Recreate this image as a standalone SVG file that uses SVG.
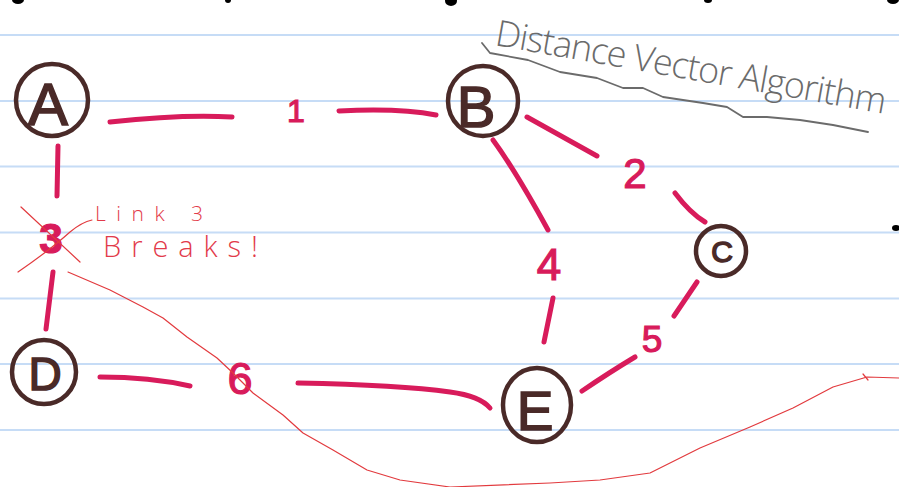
<svg xmlns="http://www.w3.org/2000/svg" width="899" height="487" viewBox="0 0 899 487">
<style>
.rule{stroke:#c6dcf6;stroke-width:2}
.node circle{fill:none;stroke:#4a2a28;stroke-width:4.5}
.node text{font-family:"Liberation Sans",Arial,sans-serif;fill:#4a2a28;stroke:#4a2a28;stroke-width:1.5;text-anchor:middle}
.edge{fill:none;stroke:#d81b5b;stroke-width:5;stroke-linecap:round;stroke-linejoin:round}
.wt{font-family:"Liberation Sans",Arial,sans-serif;fill:#d81b5b;stroke:#d81b5b;stroke-width:1.2;text-anchor:middle}
.thin{fill:none;stroke:#e23a3e;stroke-width:1.2;stroke-linecap:round;stroke-linejoin:round}
.note{font-family:"Open Sans","Liberation Sans",sans-serif;font-weight:300;fill:#e23a4a}
.title{font-family:"Open Sans","Liberation Sans",sans-serif;font-weight:300;fill:#6b6b6b}
.dot{fill:#000}
</style>
<rect width="899" height="487" fill="#fff"/>
<g id="paper">
<line class="rule" x1="0" y1="35" x2="899" y2="35"/>
<line class="rule" x1="0" y1="101" x2="899" y2="101"/>
<line class="rule" x1="0" y1="166.5" x2="899" y2="166.5"/>
<line class="rule" x1="0" y1="232.5" x2="899" y2="232.5"/>
<line class="rule" x1="0" y1="298.5" x2="899" y2="298.5"/>
<line class="rule" x1="0" y1="364" x2="899" y2="364"/>
<line class="rule" x1="0" y1="430" x2="899" y2="430"/>
<ellipse class="dot" cx="18" cy="0" rx="6" ry="4"/>
<ellipse class="dot" cx="228" cy="0" rx="3" ry="3"/>
<ellipse class="dot" cx="451" cy="1" rx="6" ry="5"/>
<ellipse class="dot" cx="708" cy="0" rx="4" ry="3"/>
<ellipse class="dot" cx="893" cy="0" rx="6" ry="4"/>
<ellipse class="dot" cx="896" cy="228" rx="4" ry="3"/>
</g>
<g id="title">
<text class="title" x="494" y="45" font-size="36" textLength="396" lengthAdjust="spacing" transform="rotate(10 494 45)">Distance Vector Algorithm</text>
<path d="M482,43 L490,53 L528,60 L560,72 L597,78 L623,88 L643,88 L663,97 L703,103 L727,107 L743,117 L767,117 L800,120 L833,125 L868,132" fill="none" stroke="#6b6b6b" stroke-width="1.8" stroke-linejoin="round" stroke-linecap="round"/>
</g>
<g id="connectors">
<path class="edge" d="M110,122 Q183,114 232,117"/>
<path class="edge" d="M339,111 Q400,108 436,115"/>
<path class="edge" d="M58,146 L57,196"/>
<path class="edge" d="M53,272 L46,329"/>
<path class="edge" d="M527,117 L597,156"/>
<path class="edge" d="M675,193 Q690,213 705,222"/>
<path class="edge" d="M493,140 Q515,170 548,230"/>
<path class="edge" d="M553,298 L544,342"/>
<path class="edge" d="M697,282 L674,316"/>
<path class="edge" d="M635,357 Q610,372 582,391"/>
<path class="edge" d="M100,377 Q150,377 190,386"/>
<path class="edge" d="M298,383 Q400,385 450,392 Q480,396 490,408"/>
<text class="wt" x="296" y="122" font-size="32">1</text>
<text class="wt" x="635" y="188" font-size="42">2</text>
<text class="wt" x="51" y="253" font-size="42" font-weight="bold">3</text>
<text class="wt" x="549" y="280" font-size="44">4</text>
<text class="wt" x="652" y="352" font-size="37">5</text>
<text class="wt" x="240" y="394" font-size="45">6</text>
</g>
<g id="annotation">
<path class="thin" d="M21,207 L80,262"/>
<path class="thin" d="M18,272 Q50,250 70,232 Q82,222 92,220"/>
<path class="thin" d="M68,272 L110,290 L143,307 L163,318 L187,337 L217,358 L233,373 L253,393 L283,415 L303,433 L333,450 L367,470 L400,480 L450,487 L550,483 L600,480 L650,473 L700,448 L750,427 L793,408 L833,387 L867,377 L899,378"/>
<path class="thin" d="M863,374 L868,380"/>
<text class="note" x="95" y="221" font-size="21" textLength="108" lengthAdjust="spacing">Link 3</text>
<text class="note" x="103" y="257" font-size="29" textLength="155" lengthAdjust="spacing">Breaks!</text>
</g>
<g id="node-A" class="node">
<circle cx="52" cy="100" r="36"/>
<text x="48" y="125" font-size="60">A</text>
</g>
<g id="node-B" class="node">
<circle cx="483" cy="101" r="35"/>
<text x="476" y="127" font-size="58">B</text>
</g>
<g id="node-C" class="node">
<circle cx="721" cy="251" r="25"/>
<text x="722" y="262" font-size="30">C</text>
</g>
<g id="node-D" class="node">
<circle cx="44" cy="372" r="32"/>
<text x="45" y="390" font-size="46">D</text>
</g>
<g id="node-E" class="node">
<ellipse cx="537" cy="405" rx="34" ry="37" fill="none" stroke="#4a2a28" stroke-width="4.5"/>
<text x="535" y="430" font-size="55">E</text>
</g>
</svg>
